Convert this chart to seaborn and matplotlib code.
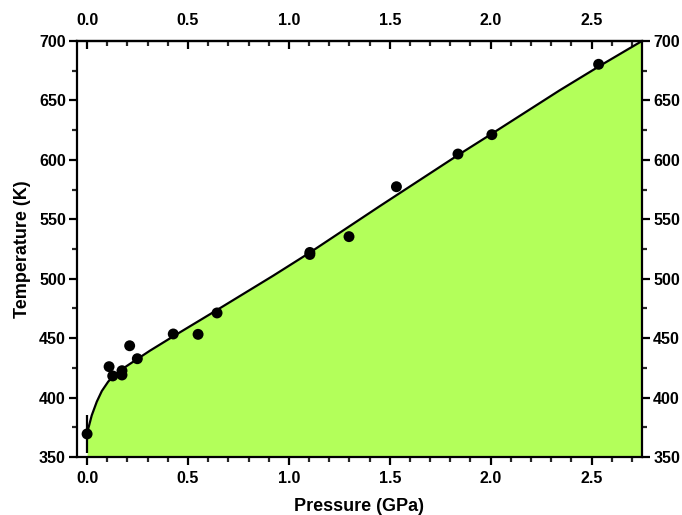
import matplotlib
matplotlib.use("Agg")
import matplotlib.pyplot as plt
import seaborn as sns
import pandas as pd
from matplotlib.ticker import MultipleLocator

# measured points
pressure = [0.0, 0.109, 0.127, 0.173, 0.173, 0.211, 0.249, 0.427, 0.55, 0.644,
            1.104, 1.104, 1.298, 1.533, 1.838, 2.006, 2.535]
temperature = [369.4, 426.0, 418.2, 422.6, 419.0, 443.6, 432.7, 453.5, 453.2, 471.2,
               522.1, 520.4, 535.4, 577.4, 604.9, 621.2, 680.4]
first_err = 16.0

# melting curve
curve_p = [0.0, 0.006, 0.023, 0.048, 0.073, 0.105, 0.147, 0.196, 0.254, 0.312,
           0.427, 0.642, 0.922, 1.104, 1.45, 1.838, 2.006, 2.342, 2.55, 2.75]
curve_t = [366.0, 374.0, 385.0, 396.5, 405.5, 413.5, 420.5, 426.5, 433.0, 439.5,
           451.5, 473.5, 502.5, 522.0, 561.0, 604.0, 622.0, 658.5, 680.0, 700.0]

x_ticks = [0.0, 0.5, 1.0, 1.5, 2.0, 2.5]
y_ticks = [350, 400, 450, 500, 550, 600, 650, 700]

sns.set_style("ticks")
plt.rcParams["font.family"] = ["Liberation Sans", "DejaVu Sans"]
plt.rcParams["font.weight"] = "bold"

fig = plt.figure(figsize=(6.82, 5.15), dpi=100)
ax = fig.add_axes([77/682, 1-457/515, (642-77)/682, (457-41)/515])

df_pts = pd.DataFrame({"P": pressure, "T": temperature})
df_curve = pd.DataFrame({"P": curve_p, "T": curve_t})

ax.fill_between(df_curve["P"], df_curve["T"], 350, color="#B3FF5A", lw=0, zorder=1)
sns.lineplot(data=df_curve, x="P", y="T", ax=ax, color="black", lw=1.6, zorder=3,
             sort=False, estimator=None)
ax.errorbar([pressure[0]], [temperature[0]], yerr=[first_err], fmt="none",
            ecolor="black", elinewidth=1.6, capsize=0, zorder=4)
sns.scatterplot(data=df_pts, x="P", y="T", ax=ax, color="black", s=62,
                edgecolor="none", zorder=5)

ax.set_xlim(-0.05, 2.75)
ax.set_ylim(350, 700)
ax.set_xticks(x_ticks)
ax.set_yticks(y_ticks)
ax.xaxis.set_minor_locator(MultipleLocator(0.1))
ax.yaxis.set_minor_locator(MultipleLocator(25))
ax.set_xticklabels([f"{v:.1f}" for v in x_ticks])
ax.set_yticklabels([str(v) for v in y_ticks])

for s in ax.spines.values():
    s.set_visible(True)
    s.set_linewidth(1.6)
    s.set_color("black")

ax.tick_params(axis="both", which="major", direction="out", length=6, width=1.6,
               labelsize=11.5, colors="black", pad=2)
ax.tick_params(axis="x", which="major", pad=4)
ax.tick_params(axis="both", which="minor", direction="out", length=3.5, width=1.6)
ax.tick_params(axis="y", which="both", right=True, labelright=True)

sec = ax.secondary_xaxis("top")
sec.set_xticks(x_ticks)
sec.set_xticklabels([f"{v:.1f}" for v in x_ticks])
sec.xaxis.set_minor_locator(MultipleLocator(0.1))
sec.tick_params(axis="x", which="major", direction="in", length=6, width=1.6,
                labelsize=11.5, pad=9, colors="black")
sec.tick_params(axis="x", which="minor", direction="in", length=3.5, width=1.6)
sec.spines["top"].set_linewidth(1.6)

for lab in ax.get_xticklabels() + ax.get_yticklabels() + sec.get_xticklabels():
    lab.set_fontweight("bold")

ax.set_xlabel("Pressure (GPa)", fontsize=13, fontweight="bold", labelpad=9,
              color="black")
ax.set_ylabel("Temperature (K)", fontsize=13, fontweight="bold", labelpad=6,
              color="black")

fig.savefig("out.png", dpi=100)
